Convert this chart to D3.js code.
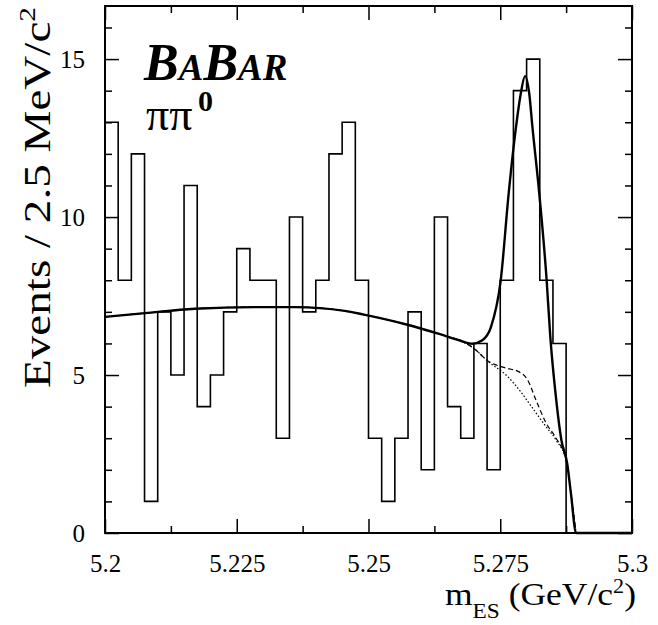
<!DOCTYPE html>
<html>
<head>
<meta charset="utf-8">
<script src="https://cdn.jsdelivr.net/npm/d3@7"></script>
<style>
  body { margin: 0; background: #fff; }
</style>
</head>
<body>
<svg id="chart" width="658" height="625"></svg>
<script>
// Histogram: events per 2.5 MeV/c^2 bin, starting at 5.2 GeV/c^2
const binLow = 5.2;
const binWidth = 0.0025;
const counts = [13, 8, 12, 1, 7, 5, 11, 4, 5, 7, 9, 8, 8, 3, 10, 7, 8, 12, 13, 8,
                3, 1, 3, 7, 2, 10, 4, 3, 6, 2, 8, 14, 15, 8, 6, 0, 0, 0, 0, 0];

// Axis ticks
const xMajor = [5.2, 5.225, 5.25, 5.275, 5.3];
const xLabels = ["5.2", "5.225", "5.25", "5.275", "5.3"];
const xMinor = [5.2125, 5.2375, 5.2625, 5.2875];
const yMajor = [0, 5, 10, 15];
const yLabels = ["0", "5", "10", "15"];
const yMinor = [1, 2, 3, 4, 6, 7, 8, 9, 11, 12, 13, 14, 16];

// Fit projection: total (signal + backgrounds)
const totalX = [5.2000, 5.2076, 5.2170, 5.2284, 5.2360, 5.2455, 5.2489, 5.2572, 5.2634, 5.2672,
                5.2697, 5.2716, 5.2732, 5.2751, 5.2766, 5.2780, 5.2789, 5.2797, 5.2805, 5.2811,
                5.2824, 5.2838, 5.2845, 5.2855, 5.2866, 5.2877, 5.2884, 5.2894, 5.3000];
const totalY = [6.84, 6.96, 7.10, 7.15, 7.15, 7.03, 6.92, 6.60, 6.30, 6.10,
                5.99, 6.10, 6.50, 8.01, 10.75, 12.86, 13.91, 14.46, 13.91, 12.86,
                10.75, 8.01, 6.21, 4.40, 2.94, 2.20, 1.27, 0.00, 0.00];

// Continuum plus B-background component (dashed)
const bbkgX = [5.2000, 5.2076, 5.2170, 5.2284, 5.2360, 5.2455, 5.2489, 5.2572, 5.2634, 5.2672,
               5.2697, 5.2729, 5.2761, 5.2786, 5.2802, 5.2818, 5.2837, 5.2856, 5.2875, 5.2884, 5.2894];
const bbkgY = [6.84, 6.96, 7.10, 7.15, 7.15, 7.03, 6.92, 6.60, 6.30, 6.10,
               5.88, 5.42, 5.22, 5.10, 4.84, 4.20, 3.48, 3.00, 2.30, 1.30, 0.00];

// Continuum component alone (dotted)
const contX = [5.2000, 5.2076, 5.2170, 5.2284, 5.2360, 5.2455, 5.2489, 5.2572, 5.2634, 5.2672,
               5.2697, 5.2729, 5.2761, 5.2786, 5.2811, 5.2837, 5.2856, 5.2877, 5.2884, 5.2894];
const contY = [6.84, 6.96, 7.10, 7.15, 7.15, 7.03, 6.92, 6.60, 6.30, 6.10,
               5.88, 5.40, 5.00, 4.53, 3.96, 3.36, 2.94, 2.20, 1.30, 0.00];

const SERIF = "Liberation Serif";

const svg = d3.select("#chart");
const L = 105, R = 632, T = 6, B = 533;
const x = d3.scaleLinear().domain([5.2, 5.3]).range([L, R]);
const y = d3.scaleLinear().domain([0, 16.68]).range([B, T]);

// Histogram outline
const histPts = [[binLow, 0]];
counts.forEach((c, i) => {
  histPts.push([binLow + i * binWidth, c]);
  histPts.push([binLow + (i + 1) * binWidth, c]);
});
histPts.push([binLow + counts.length * binWidth, 0]);
svg.append("path")
  .attr("d", d3.line().x(d => x(d[0])).y(d => y(d[1]))(histPts))
  .attr("fill", "none").attr("stroke", "#000").attr("stroke-width", 1.6);

// Fit curves
const curve = (xs, ys) => d3.line().curve(d3.curveMonotoneX)
  .x((d, i) => x(xs[i])).y((d, i) => y(ys[i]))(xs);

svg.append("path").attr("d", curve(contX, contY))
  .attr("fill", "none").attr("stroke", "#000").attr("stroke-width", 1.2)
  .attr("stroke-dasharray", "1.5,2");
svg.append("path").attr("d", curve(bbkgX, bbkgY))
  .attr("fill", "none").attr("stroke", "#000").attr("stroke-width", 1.2)
  .attr("stroke-dasharray", "5,3");
svg.append("path").attr("d", curve(totalX, totalY))
  .attr("fill", "none").attr("stroke", "#000").attr("stroke-width", 2.4);

// Axes: ticks pointing inward on all four sides
function tickAxis(axis, vals, size, tr) {
  const g = svg.append("g").attr("transform", tr)
    .call(axis.tickValues(vals).tickSize(size).tickSizeOuter(0).tickFormat(""));
  g.select(".domain").remove();
  g.selectAll("line").attr("stroke", "#000").attr("stroke-width", 1.5);
  return g;
}
tickAxis(d3.axisBottom(x), xMinor, -7, `translate(0,${B})`);
tickAxis(d3.axisTop(x), xMinor, -7, `translate(0,${T})`);
tickAxis(d3.axisTop(x), xMajor, -14, `translate(0,${T})`);
tickAxis(d3.axisLeft(y), yMinor, -7, `translate(${L},0)`);
tickAxis(d3.axisRight(y), yMinor, -7, `translate(${R},0)`);
tickAxis(d3.axisRight(y), yMajor, -14, `translate(${R},0)`);

const xAxis = svg.append("g").attr("transform", `translate(0,${B})`)
  .attr("font-family", SERIF).attr("font-size", 25)
  .call(d3.axisBottom(x).tickValues(xMajor).tickSize(-14).tickSizeOuter(0).tickPadding(21)
    .tickFormat((d, i) => xLabels[i]));
xAxis.attr("font-family", SERIF).attr("font-size", 25);
xAxis.select(".domain").remove();
xAxis.selectAll("line").attr("stroke", "#000").attr("stroke-width", 1.5);
xAxis.selectAll("text").attr("fill", "#000");

const yAxis = svg.append("g").attr("transform", `translate(${L},0)`)
  .call(d3.axisLeft(y).tickValues(yMajor).tickSize(-14).tickSizeOuter(0).tickPadding(20)
    .tickFormat((d, i) => yLabels[i]));
yAxis.attr("font-family", SERIF).attr("font-size", 25);
yAxis.select(".domain").remove();
yAxis.selectAll("line").attr("stroke", "#000").attr("stroke-width", 1.5);
yAxis.selectAll("text").attr("fill", "#000");

// Frame
svg.append("rect").attr("x", L).attr("y", T).attr("width", R - L).attr("height", B - T)
  .attr("fill", "none").attr("stroke", "#000").attr("stroke-width", 2);

// Axis titles
const xt = svg.append("text").attr("x", 636).attr("y", 605).attr("text-anchor", "end")
  .attr("font-size", 32).attr("textLength", 191).attr("lengthAdjust", "spacingAndGlyphs");
xt.append("tspan").text("m");
xt.append("tspan").attr("font-size", 21).attr("dy", 13).text("ES");
xt.append("tspan").attr("dy", -13).text(" (GeV/c");
xt.append("tspan").attr("font-size", 20).attr("dy", -12).text("2");
xt.append("tspan").attr("dy", 12).text(")");

const yt = svg.append("text").attr("transform", "translate(50,388) rotate(-90)")
  .attr("font-size", 37).attr("textLength", 381).attr("lengthAdjust", "spacingAndGlyphs");
yt.append("tspan").text("Events / 2.5 MeV/c");
yt.append("tspan").attr("font-size", 23).attr("dy", -15).text("2");

// Experiment logo and decay mode
const logo = svg.append("text").attr("x", 144).attr("y", 80)
  .attr("font-weight", "bold").attr("font-style", "italic");
logo.append("tspan").attr("font-size", 52).text("B");
logo.append("tspan").attr("font-size", 37).text("A");
logo.append("tspan").attr("font-size", 52).text("B");
logo.append("tspan").attr("font-size", 37).text("AR");

svg.append("text").attr("x", 146).attr("y", 130).attr("font-size", 46).text("ππ");
svg.append("text").attr("x", 198).attr("y", 111).attr("font-size", 30)
  .attr("font-weight", "bold").text("0");

// Serif face on every label
svg.selectAll("text").attr("font-family", SERIF).style("font-family", SERIF);
</script>
</body>
</html>
